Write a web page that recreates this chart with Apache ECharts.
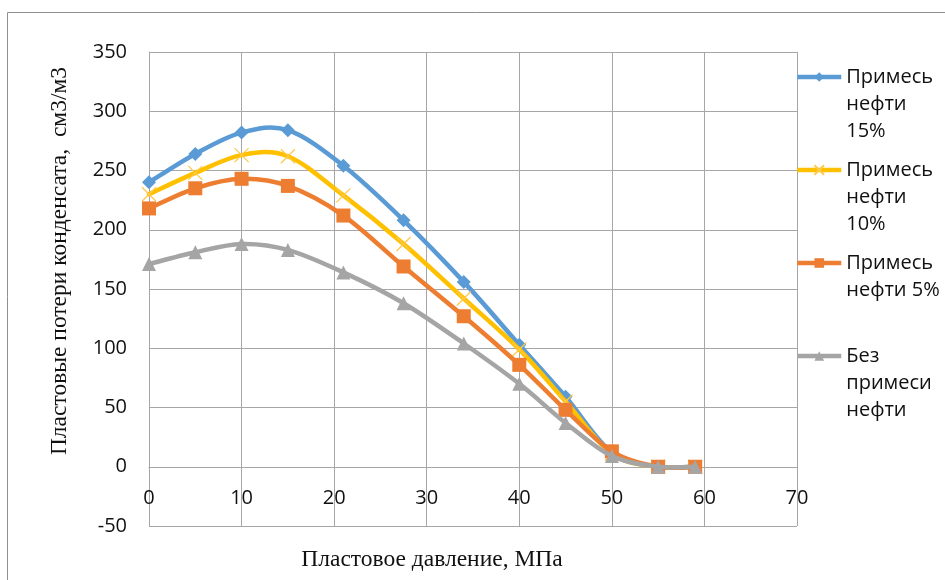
<!DOCTYPE html>
<html>
<head>
<meta charset="utf-8">
<script src="https://cdn.jsdelivr.net/npm/echarts@6/dist/echarts.min.js"></script>
<style>
  html, body { margin: 0; padding: 0; background: #fff; }
  #chart { width: 945px; height: 580px; }
</style>
</head>
<body>
<div id="chart"></div>
<script>
// Пластовое давление, МПа
const pressure = [0, 5, 10, 15, 21, 27.5, 34, 40, 45, 50, 55, 59];

// Пластовые потери конденсата, см3/м3
const oil15 = [240, 264, 282, 284, 254, 208, 156, 103, 59, 12, 0, 0];
const oil10 = [230, 248, 263, 262, 229, 188, 142, 99, 55, 11, 0, 0];
const oil5  = [218, 235, 243, 237, 212, 169, 127, 86, 48, 13, 0, 0];
const oil0  = [171, 181, 188, 183, 164, 138, 104, 70, 37, 9, 0, 0];

const seriesNames = ['Примесь\nнефти\n15%', 'Примесь\nнефти\n10%', 'Примесь\nнефти 5%', 'Без\nпримеси\nнефти'];
const seriesColors = ['#5B9BD5', '#FFC000', '#ED7D31', '#A5A5A5'];

const xTicks = { min: 0, max: 70, interval: 10 };
const yTicks = { min: -50, max: 350, interval: 50 };

const xTitle = 'Пластовое давление, МПа';
const yTitle = 'Пластовые потери конденсата,  см3/м3';

const labelFont = '"Open Sans", "Noto Sans", sans-serif';
const titleFont = '"Liberation Serif", "DejaVu Serif", serif';

const LINE_W = 4.5;
const LH = 27;

const GRID = { left: 149, right: 148, top: 52, bottom: 54 };
const CHART_H = 580;
// lift the horizontal axis (with its labels) up to the y = 0 level
const plotH = CHART_H - GRID.top - GRID.bottom;
const xAxisOffset = -plotH * (0 - yTicks.min) / (yTicks.max - yTicks.min);

function pairs(ys) { return pressure.map((x, i) => [x, ys[i]]); }

const crossPath = 'path://M0,0L10,10M10,0L0,10';

const seriesDefs = [
  { data: oil15, symbol: 'diamond', size: 14 },
  { data: oil10, symbol: crossPath, size: 14, cross: true },
  { data: oil5,  symbol: 'rect', size: 14 },
  { data: oil0,  symbol: 'triangle', size: 14 }
];

// Smoothed curve: cubic Bezier segments with Catmull-Rom tangents,
// positioned through the cartesian coordinate system.
function curveSeries(vals, color, z) {
  const n = vals.length;
  return {
    type: 'custom',
    coordinateSystem: 'cartesian2d',
    data: pairs(vals).slice(0, n - 1),
    encode: { x: 0, y: 1 },
    silent: true,
    z: z,
    renderItem: function (params, api) {
      const i = params.dataIndex;
      const P = j => api.coord([pressure[j], vals[j]]);
      const p0 = P(Math.max(i - 1, 0));
      const p1 = P(i);
      const p2 = P(i + 1);
      const p3 = P(Math.min(i + 2, n - 1));
      const t = 1 / 6;
      return {
        type: 'bezierCurve',
        shape: {
          x1: p1[0], y1: p1[1],
          x2: p2[0], y2: p2[1],
          cpx1: p1[0] + (p2[0] - p0[0]) * t,
          cpy1: p1[1] + (p2[1] - p0[1]) * t,
          cpx2: p2[0] - (p3[0] - p1[0]) * t,
          cpy2: p2[1] - (p3[1] - p1[1]) * t
        },
        style: { stroke: color, lineWidth: LINE_W, fill: null, lineCap: 'round' }
      };
    }
  };
}

const markerSeries = seriesDefs.map((d, i) => ({
  name: seriesNames[i],
  type: 'line',
  data: pairs(d.data),
  symbol: d.symbol,
  symbolSize: d.size,
  showSymbol: true,
  lineStyle: { color: seriesColors[i], width: LINE_W, opacity: 0 },
  itemStyle: d.cross
    ? { color: seriesColors[i], borderColor: '#FFC94A', borderWidth: 1.3 }
    : { color: seriesColors[i], borderWidth: 0 },
  color: seriesColors[i],
  z: 3 + 2 * i
}));

const curves = seriesDefs.map((d, i) => curveSeries(d.data, seriesColors[i], 2 + 2 * i));

// leading/trailing blank lines keep the marker level with the first text line
function legendLabel(name) {
  const n = name.split('\n').length;
  return n === 3 ? '\n\n' + name : '\n\n' + name + '\n';
}

const chart = echarts.init(document.getElementById('chart'));
chart.setOption({
  animation: false,
  backgroundColor: '#fff',
  graphic: [{
    type: 'rect',
    shape: { x: 7.5, y: 12.5, width: 960, height: 600 },
    style: { fill: 'none', stroke: '#8f8f8f', lineWidth: 1 },
    silent: true,
    z: -10
  }],
  grid: Object.assign({ containLabel: false, outerBoundsMode: 'none' }, GRID),
  legend: {
    orient: 'vertical',
    left: 795,
    top: 78 - 2.5 * LH - 1,
    padding: 0,
    itemGap: 93 - 5 * LH,
    itemWidth: 44,
    itemHeight: 12,
    formatter: legendLabel,
    textStyle: { fontFamily: labelFont, fontSize: 20, color: '#111', lineHeight: LH },
    data: seriesNames.map((n, i) => ({
      name: n,
      lineStyle: { color: seriesColors[i], width: LINE_W, opacity: 1 }
    }))
  },
  xAxis: {
    type: 'value',
    min: xTicks.min, max: xTicks.max, interval: xTicks.interval,
    offset: xAxisOffset,
    name: xTitle,
    nameLocation: 'middle',
    nameGap: 81,
    nameTextStyle: { fontFamily: titleFont, fontSize: 23.5, color: '#111', padding: [0, 82, 0, 0] },
    axisLine: { show: true, onZero: false, lineStyle: { color: '#a6a6a6', width: 1 } },
    axisTick: { show: false },
    axisLabel: { fontFamily: labelFont, fontSize: 20, color: '#111', margin: 22 },
    splitLine: { show: true, lineStyle: { color: '#a6a6a6', width: 1 } }
  },
  yAxis: {
    type: 'value',
    min: yTicks.min, max: yTicks.max, interval: yTicks.interval,
    name: yTitle,
    nameLocation: 'middle',
    nameGap: 77,
    nameTextStyle: { fontFamily: titleFont, fontSize: 23.5, color: '#111', padding: [0, 0, 0, 56] },
    axisLine: { show: true, onZero: false, lineStyle: { color: '#a6a6a6', width: 1 } },
    axisTick: { show: false },
    axisLabel: { fontFamily: labelFont, fontSize: 20, color: '#111', margin: 22 },
    splitLine: { show: true, lineStyle: { color: '#a6a6a6', width: 1 } }
  },
  series: markerSeries.concat(curves)
});
</script>
</body>
</html>
